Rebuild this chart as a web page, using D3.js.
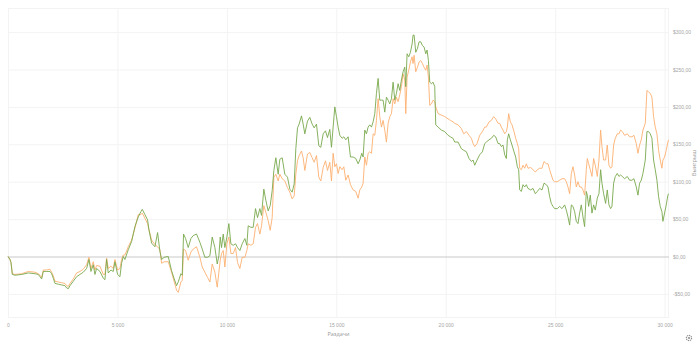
<!DOCTYPE html>
<html>
<head>
<meta charset="utf-8">
<script src="https://cdn.jsdelivr.net/npm/d3@7/dist/d3.min.js"></script>
<style>
  html, body { margin: 0; padding: 0; background: #ffffff; }
  svg { display: block; font-family: "Open Sans", "DejaVu Sans", sans-serif; }
</style>
</head>
<body>
<svg id="chart" width="700" height="342"></svg>
<script>
// Hand counts at which the running results were sampled
const hands = [
  0, 91, 137, 198, 320, 624, 928, 1233, 1385, 1461,
  1537, 1613, 1765, 1918, 1994, 2070, 2146, 2298, 2450, 2603,
  2679, 2755, 2831, 2983, 3135, 3288, 3440, 3592, 3698, 3790,
  3896, 3972, 4048, 4201, 4353, 4429, 4505, 4581, 4703, 4809,
  4886, 5007, 5114, 5190, 5266, 5342, 5494, 5647, 5799, 5951,
  6073, 6134, 6256, 6377, 6438, 6560, 6712, 6834, 6941, 7017,
  7138, 7321,
  7473, 7595, 7702, 7778, 7900, 7960, 8021, 8113, 8234, 8356,
  8463, 8615, 8767, 8874, 8995, 9117, 9224, 9330, 9452, 9559,
  9635, 9696, 9756, 9833, 9909, 10000, 10091, 10183, 10289, 10396,
  10487, 10594, 10700, 10822, 10913, 10974, 11096, 11202, 11309, 11400,
  11507, 11583, 11689, 11781, 11887, 11979, 12070, 12146, 12237, 12344,
  12420, 12526, 12648, 12770, 12877, 12983, 13075, 13150, 13227, 13303,
  13409, 13485, 13561, 13683, 13790, 13896, 13988, 14094, 14201, 14292,
  14399, 14505, 14596, 14703, 14779,
  14855, 14931, 15007, 15083, 15160, 15266, 15342, 15434, 15540, 15647,
  15768, 15890, 15997, 16073, 16164, 16225, 16301, 16377, 16453, 16529,
  16606, 16682, 16758, 16834, 16910, 16986, 17062, 17138, 17214, 17290,
  17367, 17443, 17519, 17595, 17671, 17747, 17823, 17899, 17975, 18051,
  18128, 18173, 18234, 18310, 18386, 18462, 18508, 18554, 18630, 18706,
  18782, 18858, 18934, 19010, 19087, 19147, 19208, 19269, 19345, 19421,
  19497, 19543, 19650, 19802, 19954, 20106, 20213, 20334, 20410, 20563,
  20715, 20821, 20943, 21065, 21172, 21248, 21324, 21430, 21552, 21674,
  21780, 21856, 21978, 22085, 22191, 22282, 22389,
  22464, 22540, 22617, 22693, 22769, 22814, 22875, 22951, 23027, 23119,
  23195, 23271, 23332, 23378, 23454, 23530, 23606, 23682, 23758, 23880,
  23986, 24093, 24184, 24291, 24397, 24489, 24595, 24671, 24747, 24823,
  24900, 24976, 25097, 25204, 25310, 25432, 25508, 25584, 25661, 25737,
  25813, 25889, 25965, 26041, 26117, 26193, 26269, 26345, 26422, 26467,
  26528, 26604, 26680, 26756, 26832, 26924, 27000, 27076, 27137, 27213,
  27304, 27380, 27456, 27533, 27593, 27670, 27746, 27837, 27913, 27989,
  28065, 28172, 28294, 28400, 28507, 28598, 28705, 28781, 28857, 28933,
  29009, 29116, 29192, 29268, 29344, 29420, 29496, 29572, 29648, 29724,
  29800, 29876, 29922, 29998, 30074, 30150, 30180
];

// Net winnings in dollars (green line)
const netWon = [
  0, -4, -8, -24, -25, -24, -22, -23, -24, -27,
  -30, -20, -20, -20, -23, -29, -36, -37, -38, -39,
  -42, -43, -39, -33, -27, -24, -21, -16, -4, -20,
  -11, -24, -16, -20, -29, -31, -4, -22, -18, -20,
  -7, -24, -27, -9, 0, -4, 9, 20, 40, 53,
  60, 63, 56, 49, 36, 18, 13, 32, 7, -4,
  -1, 0,
  -19, -30, -39, -34, -23, -25, 30, 24, 12, 24,
  28, 30, 19, 10, -1, -1, 1, 26, 12, -10,
  1, 26, 12, 30, 12, 26, 44, 17, 15, 17,
  12, 8, 17, 24, 15, 41, 39, 39, 64, 52,
  64, 55, 90, 75, 61, 68, 88, 115, 132, 110,
  130, 132, 110, 106, 90, 86, 97, 144, 172, 177,
  188, 177, 164, 181, 186, 177, 172, 177, 148, 146,
  164, 168, 159, 170, 146,
  173, 200, 187, 173, 162, 158, 160, 156, 160, 133,
  133, 131, 124, 129, 138, 133, 169, 164, 173, 176,
  173, 180, 191, 218, 238, 209, 209, 209, 193, 213,
  209, 204, 211, 233, 209, 218, 231, 222, 236, 247,
  253, 227, 271, 267, 273, 284, 296, 296, 273, 278,
  287, 287, 282, 280, 271, 276, 262, 233, 231, 233,
  227, 176, 173, 169, 167, 162, 160, 158, 153, 153,
  144, 142, 140, 131, 127, 129, 122, 129, 136, 140,
  151, 153, 156, 158, 162, 160, 151,
  151, 147, 149, 136, 131, 156, 164, 156, 149, 140,
  133, 120, 116, 89, 87, 96, 93, 96, 91, 89,
  91, 84, 87, 91, 89, 98, 96, 93, 80, 71,
  67, 64, 64, 67, 64, 69, 62, 53, 42, 69,
  67, 60, 47, 44, 58, 69, 53, 40, 87, 82,
  67, 82, 58, 69, 62, 78, 84, 116, 98, 84,
  71, 89, 69, 64, 67, 98, 107, 111, 107, 109,
  107, 104, 107, 102, 102, 104, 93, 82, 98, 102,
  111, 129, 167, 167, 164, 158, 129, 116, 102, 80,
  67, 60, 47, 58, 69, 82, 84
];

// All-in adjusted winnings in dollars (orange line)
const allInAdj = [
  0, -4, -8, -23, -24, -23, -20, -21, -23, -25,
  -28, -18, -18, -17, -21, -26, -33, -34, -35, -36,
  -39, -40, -36, -30, -22, -20, -17, -11, -1, -16,
  -7, -18, -12, -13, -24, -24, -2, -16, -13, -16,
  -4, -18, -16, -4, 2, 2, 13, 22, 38, 56,
  56, 58, 51, 44, 36, 22, 16, 13, 9, -9,
  -7, -7,
  -21, -34, -45, -48, -34, -32, 10, 8, -5, 6,
  10, 13, -1, -14, -21, -28, -34, -10, -21, -41,
  -21, -5, 4, 8, -14, 17, 26, 4, 4, 12,
  -8, -16, -1, -1, 8, 17, 15, 17, 39, 44,
  30, 41, 68, 59, 48, 35, 52, 106, 110, 101,
  110, 104, 101, 92, 86, 77, 81, 110, 128, 135,
  141, 132, 115, 137, 139, 132, 126, 135, 106, 101,
  119, 128, 115, 126, 101,
  138, 120, 124, 111, 120, 116, 120, 102, 109, 96,
  89, 87, 78, 89, 93, 98, 133, 122, 138, 140,
  138, 164, 162, 182, 211, 187, 173, 182, 169, 153,
  178, 187, 191, 211, 204, 213, 207, 216, 227, 244,
  236, 191, 240, 249, 260, 267, 258, 269, 247, 253,
  260, 262, 258, 253, 249, 256, 240, 202, 204, 209,
  207, 200, 191, 189, 187, 184, 182, 180, 178, 176,
  171, 164, 167, 162, 158, 151, 147, 151, 162, 167,
  173, 173, 180, 182, 187, 184, 178,
  178, 173, 169, 164, 167, 173, 191, 180, 176, 167,
  158, 151, 144, 118, 116, 122, 118, 124, 118, 119,
  116, 113, 116, 118, 118, 127, 124, 124, 116, 109,
  102, 100, 100, 102, 104, 104, 100, 93, 84, 111,
  120, 109, 93, 100, 93, 93, 89, 82, 116, 131,
  124, 116, 107, 131, 122, 107, 129, 169, 147, 129,
  129, 149, 122, 118, 120, 149, 158, 164, 164, 169,
  167, 162, 164, 160, 160, 162, 151, 138, 149, 156,
  169, 178, 222, 220, 218, 213, 187, 173, 164, 142,
  129, 118, 129, 133, 142, 153, 156
];

// Axis ticks
const xTicks = [0, 5000, 10000, 15000, 20000, 25000, 30000];
const yTicks = [-50, 0, 50, 100, 150, 200, 250, 300];

const svg = d3.select("#chart");
const plot = { left: 8, right: 669, top: 8, bottom: 318 };

const x = d3.scaleLinear().domain([0, 30200]).range([plot.left, plot.right]);
const y = d3.scaleLinear().domain([-82.2, 332.2]).range([plot.bottom, plot.top]);

const thousands = d3.formatLocale({ decimal: ",", thousands: "\u00a0", grouping: [3], currency: ["$", ""] });
const fmtHands = thousands.format(",d");
const fmtMoney = v => (v < 0 ? "-" : "") + "$" + thousands.format(",.2f")(Math.abs(v));

const gridColor = "#f3f3f3";
const textColor = "#a6a6a6";

// Frame
svg.append("rect")
  .attr("x", plot.left + 0.5).attr("y", plot.top + 0.5)
  .attr("width", plot.right - plot.left - 1).attr("height", plot.bottom - plot.top - 1)
  .attr("fill", "none").attr("stroke", gridColor);

// Vertical grid and x axis
const xAxis = d3.axisBottom(x).tickValues(xTicks).tickFormat(fmtHands)
  .tickSize(-(plot.bottom - plot.top)).tickPadding(5);
const gx = svg.append("g").attr("transform", `translate(0,${plot.bottom})`).call(xAxis);
gx.select(".domain").remove();
gx.selectAll(".tick line").attr("stroke", gridColor);
gx.selectAll(".tick text").attr("fill", textColor).attr("font-size", 5);

// Horizontal grid and y axis on the right
const yAxis = d3.axisRight(y).tickValues(yTicks).tickFormat(fmtMoney)
  .tickSize(-(plot.right - plot.left)).tickPadding(4);
const gy = svg.append("g").attr("transform", `translate(${plot.right},0)`).call(yAxis);
gy.select(".domain").remove();
gy.selectAll(".tick line").attr("stroke", d => d === 0 ? "#c9c9c9" : gridColor);
gy.selectAll(".tick text").attr("fill", textColor).attr("font-size", 5);

// Axis titles
svg.append("text")
  .attr("x", (plot.left + plot.right) / 2).attr("y", 336)
  .attr("text-anchor", "middle").attr("font-size", 5.5).attr("fill", "#999")
  .text("Раздачи");
svg.append("text")
  .attr("transform", `translate(696,${(plot.top + plot.bottom) / 2}) rotate(-90)`)
  .attr("text-anchor", "middle").attr("font-size", 5.5).attr("fill", "#999")
  .text("Выигрыш");

// Series lines
const n = Math.min(hands.length, netWon.length, allInAdj.length);
const idx = d3.range(n);
const lineOf = values => d3.line().x(i => x(hands[i])).y(i => y(values[i]));

svg.append("path").datum(idx)
  .attr("fill", "none").attr("stroke", "#fdb070").attr("stroke-width", 0.9)
  .attr("stroke-linejoin", "round")
  .attr("d", lineOf(allInAdj));
svg.append("path").datum(idx)
  .attr("fill", "none").attr("stroke", "#78a84c").attr("stroke-width", 0.9)
  .attr("stroke-linejoin", "round")
  .attr("d", lineOf(netWon));

// Settings glyph in the corner
const gear = svg.append("g").attr("transform", "translate(689,338)");
gear.append("circle").attr("r", 2.6).attr("fill", "none").attr("stroke", "#8a8a8a").attr("stroke-width", 1.2)
  .attr("stroke-dasharray", "1.2 0.8");
gear.append("circle").attr("r", 1).attr("fill", "#8a8a8a");
</script>
</body>
</html>
